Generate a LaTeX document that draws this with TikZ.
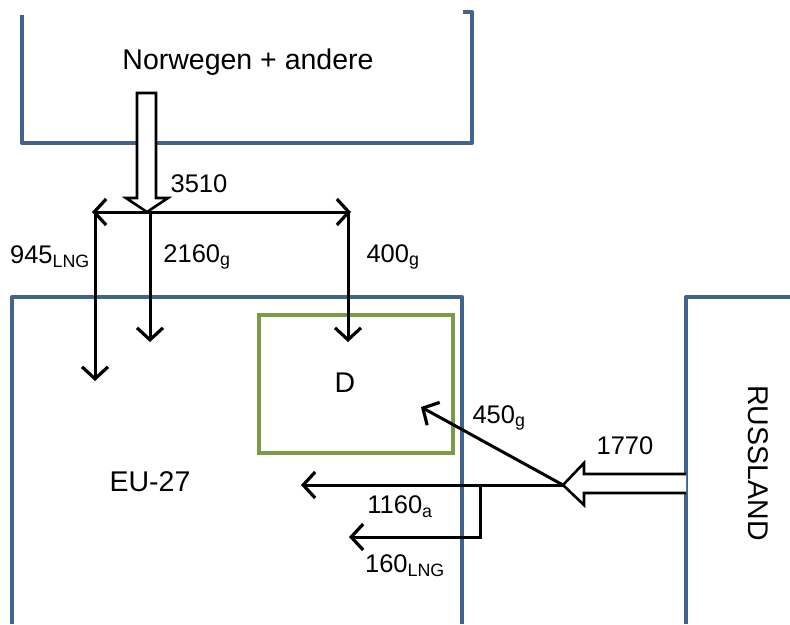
\documentclass[tikz,border=0pt]{standalone}
\usepackage{fontspec}
\setmainfont{Liberation Sans}
\usepackage{tikz}
\usetikzlibrary{arrows.meta, positioning, calc}
\definecolor{regionblue}{RGB}{65,100,143}
\definecolor{dgreen}{RGB}{122,154,69}
\tikzset{
  region/.style={draw=regionblue, line width=4pt, line join=round},
  flow/.style={line width=3pt, -{Straight Barb[length=12pt,width=26pt,line width=3.2pt]}},
  hollow/.style={draw=black, fill=white, line width=2.6pt, line join=miter},
  amount/.style={font=\fontsize{25.5}{30}\selectfont},
  land/.style={font=\fontsize{28.5}{32}\selectfont}
}

\begin{document}
\begin{tikzpicture}[x=1pt, y=-1pt]
  \useasboundingbox (0,0) rectangle (790,624);

  % regions
  \draw[region] (22,15) -- (22,143) -- (472,143) -- (472,12) -- (463,12);
  \draw[region] (12,624) -- (12,297) -- (462,297) -- (462,624);
  \draw[region] (686,624) -- (686,297) -- (790,297);
  \draw[draw=dgreen, line width=4pt] (259,315) rectangle (453,453);

  \node[land] (norway) at (248,62) {Norwegen + andere};
  \node[land] (eu) at (150,482) {EU-27};
  \node[land] (de) at (345,383) {D};
  \node[land, rotate=-90] (russia) at (758,463) {RUSSLAND};

  % split points
  \coordinate (nsplit) at (147,212);
  \coordinate (nleft) at (95,212);
  \coordinate (nright) at (348,212);
  \coordinate (rsplit) at (563,485);
  \coordinate (rbranch) at (480,485);

  % import from the north
  \draw[hollow] (137,93) -- (156,93) -- (156,198) -- (168,198) -- (nsplit)
    -- (126,198) -- (137,198) -- cycle;
  \draw[flow] (nsplit) -- ($(nleft)+(-3,0)$);
  \draw[flow] (nsplit) -- ($(nright)+(3,0)$);
  \draw[flow] (nleft) -- (95,381);
  \draw[flow] (150,212) -- (150,342);
  \draw[flow] (nright) -- (348,342);

  % import from the east
  \draw[hollow] (686,474) -- (584,474) -- (584,463) -- (rsplit) -- (584,505)
    -- (584,493) -- (686,493);
  \draw[flow] (rsplit) -- (421,407);
  \draw[flow] (rsplit) -- (301,485);
  \draw[flow] (rbranch) -- (480,537) -- (349,537);

  \node[amount] (n3510) at (199,184) {3510};
  \node[amount] (n945) at (50,257) {945\textsubscript{LNG}};
  \node[amount] (n2160) at (197,257) {2160\textsubscript{g}};
  \node[amount] (n400) at (393,257) {400\textsubscript{g}};
  \node[amount] (n450) at (499,418) {450\textsubscript{g}};
  \node[amount] (n1770) at (625,446) {1770};
  \node[amount] (n1160) at (400,507) {1160\textsubscript{a}};
  \node[amount] (n160) at (405,566) {160\textsubscript{LNG}};
\end{tikzpicture}
\end{document}
